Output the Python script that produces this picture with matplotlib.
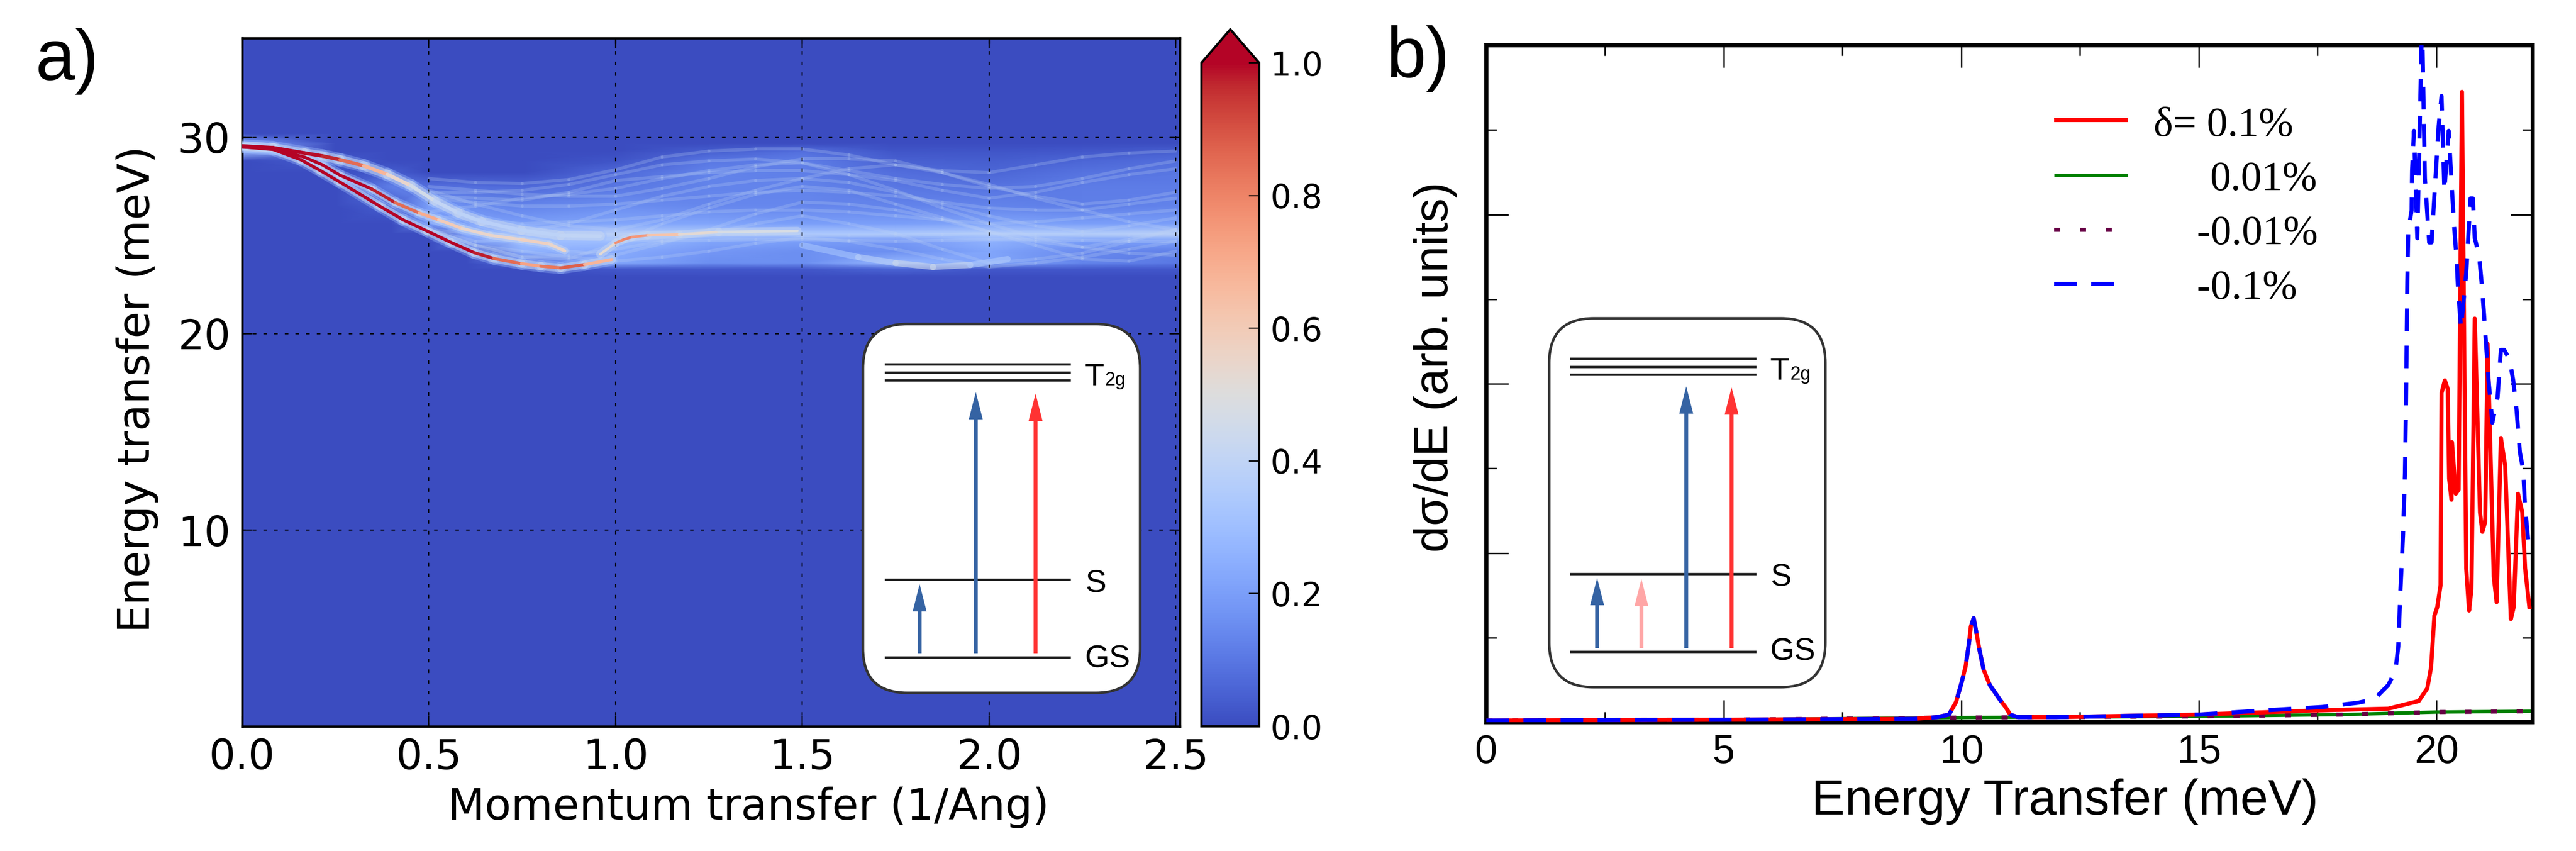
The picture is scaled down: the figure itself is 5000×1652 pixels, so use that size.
import matplotlib
matplotlib.use('Agg')
import matplotlib.pyplot as plt
from matplotlib.collections import LineCollection
from matplotlib.patches import FancyBboxPatch
from matplotlib.ticker import MultipleLocator
import numpy as np

W, H, DPI = 5000, 1652, 100
PX = 72.0 / DPI  # pixels to points

# panel a) diffuse intensity table (rows: energy, columns: momentum)
q_table = [0.0, 0.25, 0.4, 0.5, 0.6, 0.75, 1.0, 1.25, 1.5, 1.75, 2.0, 2.25, 2.52]
e_table = [0, 22.9, 23.3, 23.6, 24.2, 24.7, 25.1, 25.6, 26.5, 27.5, 28.2, 28.8, 29.3, 29.7, 30.2, 35.1]
intensity = [
    [0, 0, 0, 0, 0, 0, 0, 0, 0, 0, 0, 0, 0],
    [0, 0, 0, 0, 0, 0, 0, 0, 0, 0, 0, 0, 0],
    [0, 0, 0, 0, 0, 0, .03, .03, .03, .06, .03, .03, .03],
    [0, 0, 0, 0, 0, .08, .22, .16, .16, .28, .22, .13, .10],
    [0, 0, 0, 0, 0, .26, .24, .18, .16, .16, .22, .15, .12],
    [0, 0, 0, 0, .18, .30, .30, .22, .20, .18, .26, .20, .20],
    [0, 0, 0, 0, .24, .36, .38, .36, .34, .34, .36, .36, .38],
    [0, 0, 0, .20, .20, .20, .22, .22, .20, .20, .22, .20, .20],
    [0, 0, .04, .20, .16, .13, .16, .14, .14, .13, .13, .12, .13],
    [0, 0, .12, .08, .08, .07, .10, .13, .13, .10, .09, .11, .11],
    [0, 0, .04, 0, 0, 0, .07, .13, .12, .08, .06, .09, .10],
    [0, .04, 0, 0, 0, 0, .02, .10, .12, .05, .04, .06, .08],
    [.30, 0, 0, 0, 0, 0, 0, .04, .08, .02, .02, .03, .04],
    [.20, 0, 0, 0, 0, 0, 0, 0, 0, 0, 0, 0, 0],
    [0, 0, 0, 0, 0, 0, 0, 0, 0, 0, 0, 0, 0],
    [0, 0, 0, 0, 0, 0, 0, 0, 0, 0, 0, 0, 0],
]

# sharp dispersion branches
q_a = [0, .083, .157, .21, .262, .368, .431, .495, .558, .621, .674, .748, .80, .853, .917, .99]
e_a = [29.51, 29.38, 28.86, 28.3, 27.72, 26.5, 25.8, 25.23, 24.66, 24.13, 23.83, 23.57, 23.44, 23.35, 23.52, 23.78]
i_a = [1, 1, 1, 1, 1, 1, 1, 1, 1, 1, .95, .75, .7, .95, .8, .55]
q_b = [0, .083, .167, .215, .262, .347, .41, .474, .526, .589, .664, .748, .822, .864]
e_b = [29.51, 29.42, 28.99, 28.6, 28.07, 27.37, 26.67, 26.15, 25.8, 25.36, 25.01, 24.79, 24.57, 24.22]
i_b = [1, 1, 1, 1, 1, 1, .95, .75, .65, .55, .55, .55, .6, .5]
q_c = [0, .083, .167, .215, .262, .326, .389, .452, .516, .579, .642, .748, .853, .959]
e_c = [29.56, 29.47, 29.2, 29.05, 28.86, 28.55, 28.11, 27.54, 26.76, 26.15, 25.71, 25.27, 25.0, 24.97]
i_c = [1, 1, 1, .98, .95, .75, .6, .5, .42, .4, .38, .38, .4, .4]
q_d = [.959, 1.0, 1.022, 1.044, 1.086, 1.17, 1.276, 1.487]
e_d = [24.05, 24.62, 24.8, 24.92, 25.01, 25.05, 25.18, 25.23]
i_d = [.3, .75, .8, .8, .7, .55, .5, .45]
q_e = [1.5, 1.65, 1.75, 1.85, 1.95, 2.05]
e_e = [24.5, 23.9, 23.6, 23.4, 23.5, 23.8]
i_e = [.3, .35, .42, .48, .4, .3]

# faint modes in the diffuse band
q_pale = [.5, .625, .75, .875, 1.0, 1.125, 1.25, 1.375, 1.5, 1.625, 1.75, 1.875, 2.0, 2.125, 2.25, 2.375, 2.5]
e_pale = [
    [26.6, 25.8, 25.2, 25.6, 26.3, 27.0, 27.5, 27.8, 27.9, 27.7, 27.2, 26.6, 26.0, 25.5, 25.2, 25.5, 25.9],
    [27.3, 26.6, 26.0, 25.5, 25.3, 25.8, 26.6, 27.3, 27.9, 28.4, 28.6, 28.2, 27.6, 26.9, 26.3, 25.7, 25.3],
    [27.5, 27.3, 27.1, 27.0, 27.0, 27.4, 27.9, 28.5, 28.9, 28.9, 28.8, 28.2, 27.5, 27.0, 26.6, 26.8, 27.2],
    [27.9, 27.7, 27.65, 27.85, 28.35, 29.0, 29.3, 29.4, 29.4, 29.1, 28.6, 28.3, 28.2, 28.6, 29.0, 29.2, 29.3],
    [26.2, 26.5, 26.9, 27.1, 27.4, 27.9, 28.3, 28.6, 28.7, 28.1, 27.3, 26.4, 25.6, 24.9, 24.4, 24.8, 25.3],
    [25.7, 25.1, 24.6, 24.2, 24.0, 24.6, 25.3, 26.1, 26.7, 26.6, 26.3, 25.8, 25.2, 24.7, 24.4, 24.1, 24.0],
    [25.3, 24.5, 23.9, 24.0, 24.3, 24.7, 25.1, 25.6, 26.0, 25.6, 25.1, 24.3, 23.6, 23.8, 24.1, 24.7, 25.3],
    [25.3, 24.5, 24.2, 23.9, 23.7, 23.9, 24.2, 24.6, 24.9, 24.7, 24.3, 23.8, 23.4, 23.6, 23.9, 24.3, 24.7],
    [26.9, 26.7, 26.5, 26.5, 26.6, 26.8, 27.0, 27.2, 27.3, 27.2, 27.0, 26.7, 26.4, 26.3, 26.3, 26.6, 26.9],
    [26.0, 25.8, 25.6, 25.7, 25.8, 26.0, 26.2, 26.3, 26.3, 26.2, 26.0, 25.8, 25.6, 25.7, 25.9, 26.1, 26.3],
    [27.0, 26.9, 26.8, 27.2, 27.8, 28.0, 28.2, 28.3, 28.3, 28.1, 27.8, 27.3, 26.9, 27.2, 27.7, 28.1, 28.4],
    [25.3, 25.1, 25.0, 25.0, 25.0, 25.05, 25.1, 25.05, 25.0, 25.0, 25.0, 25.05, 25.1, 25.05, 25.0, 25.0, 25.0],
    [25.3, 24.7, 24.8, 24.85, 24.8, 24.75, 24.75, 24.8, 24.8, 24.75, 24.7, 24.75, 24.8, 24.8, 24.75, 24.7, 24.7],
    [27.2, 27.2, 27.3, 27.6, 28.1, 28.6, 28.8, 28.9, 28.7, 28.3, 27.9, 27.6, 27.4, 27.5, 27.9, 28.4, 28.8],
    [25.3, 24.5, 23.9, 23.8, 24.6, 25.6, 26.4, 27.1, 27.5, 27.3, 26.6, 25.9, 25.2, 24.5, 23.8, 23.7, 24.2],
]

# panel b) spectra
x_peak = [0, 5, 9, 9.49, 9.74, 9.89, 10.01, 10.09, 10.16, 10.2, 10.26, 10.32, 10.38, 10.47, 10.6, 10.82, 10.93,
          11.03, 11.19, 12, 15]
y_peak = [.02, .03, .04, .06, .09, .24, .48, .66, .93, 1.13, 1.23, 1.05, .86, .62, .44, .26, .18,
          .09, .06, .06, .09]
x_red = x_peak + [17.5, 18.99, 19.63, 19.81, 19.89, 19.96, 20.02, 20.09, 20.11, 20.18, 20.24, 20.27, 20.32, 20.33,
                  20.41, 20.47, 20.54, 20.63, 20.69, 20.74, 20.81, 20.92, 20.97, 21.03, 21.08, 21.21, 21.27,
                  21.36, 21.45, 21.57, 21.63, 21.72, 21.81, 21.87, 21.96]
y_red = y_peak + [.14, .16, .25, .4, .65, 1.26, 1.36, 1.62, 3.89, 4.04, 3.94, 2.88, 2.63, 3.31,
                  2.70, 2.75, 7.45, 1.82, 1.32, 1.57, 4.77, 2.48, 2.25, 2.37, 4.47, 1.72, 1.42,
                  3.36, 3.03, 1.22, 1.36, 2.70, 2.48, 1.82, 1.36]
x_blue = x_peak + [16.38, 17.6, 18.35, 18.69, 18.99, 19.14, 19.2, 19.24, 19.3, 19.34, 19.36, 19.39, 19.41, 19.48,
                   19.49, 19.53, 19.6, 19.7, 19.76, 19.85, 19.9, 20.05, 20.11, 20.17, 20.26, 20.37, 20.43,
                   20.46, 20.52, 20.63, 20.72, 20.77, 20.81, 20.9, 20.95, 21.0, 21.05, 21.1, 21.14, 21.18,
                   21.29, 21.36, 21.43, 21.54, 21.62, 21.69, 21.76, 21.83, 21.87, 21.95]
y_blue = y_peak + [.14, .18, .23, .27, .44, .61, .90, 1.50, 2.22, 2.95, 3.65, 5.22, 5.81, 6.05,
                   6.52, 6.99, 5.72, 8.3, 6.43, 5.67, 5.67, 7.05, 7.4, 6.28, 6.99, 5.9, 5.45,
                   5.1, 4.66, 5.31, 6.19, 6.19, 5.72, 5.52, 5.22, 4.86, 4.45, 4.04, 3.8, 3.54,
                   3.84, 4.4, 4.4, 4.29, 4.04, 3.69, 3.19, 2.98, 2.53, 2.07]
x_flat = [0, 5, 10, 15, 18, 20, 22]
y_green = [.02, .03, .055, .07, .09, .12, .13]
y_maroon = [.02, .03, .055, .07, .09, .12, .13]

legend_labels = ['\u03b4= 0.1%', '0.01%', '-0.01%', '-0.1%']
cbar_ticks = [0.0, 0.2, 0.4, 0.6, 0.8, 1.0]


def axes_box(x0, y0, x1, y1):
    # pixel box (top-left origin) to figure fractions
    return [x0 / W, 1 - y1 / H, (x1 - x0) / W, (y1 - y0) / H]


def draw_branch(ax, q, e, level, width, alpha=1.0, zorder=3):
    pts = np.column_stack([q, e])
    segs = np.stack([pts[:-1], pts[1:]], axis=1)
    vals = (np.array(level[:-1]) + np.array(level[1:])) / 2
    lc = LineCollection(segs, array=vals, cmap='coolwarm', norm=plt.Normalize(0, 1),
                        linewidths=width * PX, alpha=alpha, zorder=zorder, capstyle='round')
    ax.add_collection(lc)


def draw_scheme(ov, box, levels, xlev, arrows, tail, text_x, base):
    x0, y0, x1, y1 = box
    ov.add_patch(FancyBboxPatch((x0 + 86, y0 + 86), x1 - x0 - 172, y1 - y0 - 172,
                                boxstyle='round,pad=86,rounding_size=86', fc='white', ec='#333333',
                                lw=5 * PX, zorder=5))
    for y in levels:
        ov.plot(xlev, [y, y], color='#1a1a1a', lw=4.5 * PX, solid_capstyle='butt', zorder=6)
    for x, tip, col in arrows:
        ov.arrow(x, tail, 0, tip - tail, width=7.5, head_width=27, head_length=53,
                 length_includes_head=True, fc=col, ec=col, lw=0, zorder=7)
    ov.text(text_x, base[0], 'T', fontsize=44, family='Liberation Sans', va='baseline', zorder=8)
    ov.text(text_x + 38, base[0], '2g', fontsize=26, family='Liberation Sans', va='baseline', zorder=8)
    ov.text(text_x, base[1], 'S', fontsize=44, family='Liberation Sans', va='baseline', zorder=8)
    ov.text(text_x, base[2], 'GS', fontsize=44, family='Liberation Sans', va='baseline', zorder=8)


plt.rcParams['font.family'] = ['DejaVu Sans']
fig = plt.figure(figsize=(W / DPI, H / DPI), dpi=DPI, facecolor='white')

# panel a)
ax1 = fig.add_axes(axes_box(470, 74, 2290, 1410))
mesh = ax1.pcolormesh(q_table, e_table, np.array(intensity), cmap='coolwarm', vmin=0, vmax=1,
                      shading='gouraud', zorder=1)
for row in e_pale:
    draw_branch(ax1, q_pale, row, [.4] * len(q_pale), 6, alpha=.24, zorder=2)
for q, e, wide in [(q_a, e_a, 16), (q_b, e_b, 14), (q_c, e_c, 18)]:
    draw_branch(ax1, q, e, [.3] * len(q), wide + 8, alpha=.35)
    draw_branch(ax1, q, e, [.42] * len(q), wide, alpha=.55)
draw_branch(ax1, q_e, e_e, i_e, 12, alpha=.6)
draw_branch(ax1, q_d, e_d, [.42] * len(q_d), 16, alpha=.5)
draw_branch(ax1, q_c, e_c, i_c, 7, zorder=4)
draw_branch(ax1, q_b, e_b, i_b, 6, zorder=4)
draw_branch(ax1, q_a, e_a, i_a, 6, zorder=4)
draw_branch(ax1, q_d, e_d, i_d, 5, zorder=4)
ax1.set_xlim(0, 2.511)
ax1.set_ylim(0.01, 35.05)
ax1.set_xticks([0, .5, 1, 1.5, 2, 2.5])
ax1.set_xticklabels(['0.0', '0.5', '1.0', '1.5', '2.0', '2.5'])
ax1.set_yticks([10, 20, 30])
ax1.grid(True, color='black', lw=2.3 * PX, linestyle=(0, (3, 6)), zorder=4.5)
ax1.set_axisbelow(False)
ax1.tick_params(direction='in', top=True, right=True, length=20 * PX, width=2.4 * PX,
                labelsize=58, pad=16)
for s in ax1.spines.values():
    s.set_linewidth(4.5 * PX)
ax1.set_xlabel('Momentum transfer (1/Ang)', fontsize=60, labelpad=12, x=0.54)
ax1.set_ylabel('Energy transfer (meV)', fontsize=61, labelpad=27, y=0.49)

# colorbar
cax = fig.add_axes(axes_box(2332, 57, 2444, 1410))
cb = fig.colorbar(mesh, cax=cax, extend='max', extendfrac=65 / 1288, ticks=cbar_ticks)
cb.outline.set_linewidth(4.5 * PX)
cb.ax.tick_params(direction='in', length=20 * PX, width=2.4 * PX, labelsize=46, pad=16)

# panel b)
ax2 = fig.add_axes(axes_box(2885, 88, 4916, 1402))
ax2.plot(x_flat, y_green, color='green', lw=6.5 * PX, zorder=2)
ax2.plot(x_flat, y_maroon, color='#660044', lw=8 * PX, linestyle=(0, (1.5, 4.75)), zorder=3,
         dash_capstyle='butt')
ax2.plot(x_red, y_red, color='red', lw=8 * PX, zorder=4)
ax2.plot(x_blue, y_blue, color='blue', lw=8 * PX, linestyle=(0, (5.5, 3.5)), zorder=5,
         dash_capstyle='butt')
ax2.set_xlim(0, 22.03)
ax2.set_ylim(0, 8)
ax2.xaxis.set_major_locator(MultipleLocator(5))
ax2.xaxis.set_minor_locator(MultipleLocator(2.5))
ax2.yaxis.set_major_locator(MultipleLocator(2))
ax2.yaxis.set_minor_locator(MultipleLocator(1))
ax2.tick_params(which='major', direction='in', top=True, right=True, length=43 * PX, width=2.7 * PX,
                labelleft=False, pad=16)
ax2.tick_params(which='minor', direction='in', top=True, right=True, length=20 * PX, width=2.7 * PX)
for lab in ax2.get_xticklabels():
    lab.set_family('Liberation Sans')
    lab.set_fontsize(56)
for s in ax2.spines.values():
    s.set_linewidth(8 * PX)
ax2.set_xlabel('Energy Transfer (meV)', fontsize=70, family='Liberation Sans', labelpad=10, x=0.553)
ax2.set_ylabel('d\u03c3/dE (arb. units)', fontsize=67, family='Liberation Sans', labelpad=37, y=0.525)

# overlay in pixel coordinates for insets, panel letters and legend
ov = fig.add_axes([0, 0, 1, 1], zorder=10)
ov.set_xlim(0, W)
ov.set_ylim(H, 0)
ov.axis('off')
ov.patch.set_alpha(0)

draw_scheme(ov, (1675, 629, 2213, 1345), [707, 723, 738, 1125, 1276], [1717, 2078],
            [(1785, 1134, '#3563a3'), (1894, 761, '#3563a3'), (2010, 764, '#ff3333')],
            1268, 2106, (748, 1149, 1295))
draw_scheme(ov, (3007, 618, 3543, 1334), [696, 712, 727, 1114, 1265], [3047, 3409],
            [(3100, 1122, '#3563a3'), (3186, 1124, '#ffa6a6'), (3273, 750, '#3563a3'), (3361, 752, '#ff3333')],
            1258, 3436, (737, 1137, 1282))

ov.text(68, 155, 'a)', fontsize=100, family='Liberation Sans', va='baseline')
ov.text(2690, 150, 'b)', fontsize=100, family='Liberation Sans', va='baseline')

# hand-placed key, as in the original
key_y = [233, 340, 446, 551]
key_x = [3987, 4130]
ov.plot(key_x, [key_y[0]] * 2, color='red', lw=8 * PX, solid_capstyle='butt')
ov.plot(key_x, [key_y[1]] * 2, color='green', lw=6.5 * PX, solid_capstyle='butt')
ov.plot(key_x, [key_y[2]] * 2, color='#660044', lw=8 * PX, linestyle=(0, (1.5, 4.75)), dash_capstyle='butt')
ov.plot(key_x, [key_y[3]] * 2, color='blue', lw=8 * PX, linestyle=(0, (5.5, 3.5)), dash_capstyle='butt')
label_x = [4180, 4290, 4264, 4264]
label_y = [264, 369, 474, 580]
for txt, lx, ly in zip(legend_labels, label_x, label_y):
    ov.text(lx, ly, txt, fontsize=58, family='Liberation Serif', va='baseline')

fig.savefig('out.png', dpi=DPI)
